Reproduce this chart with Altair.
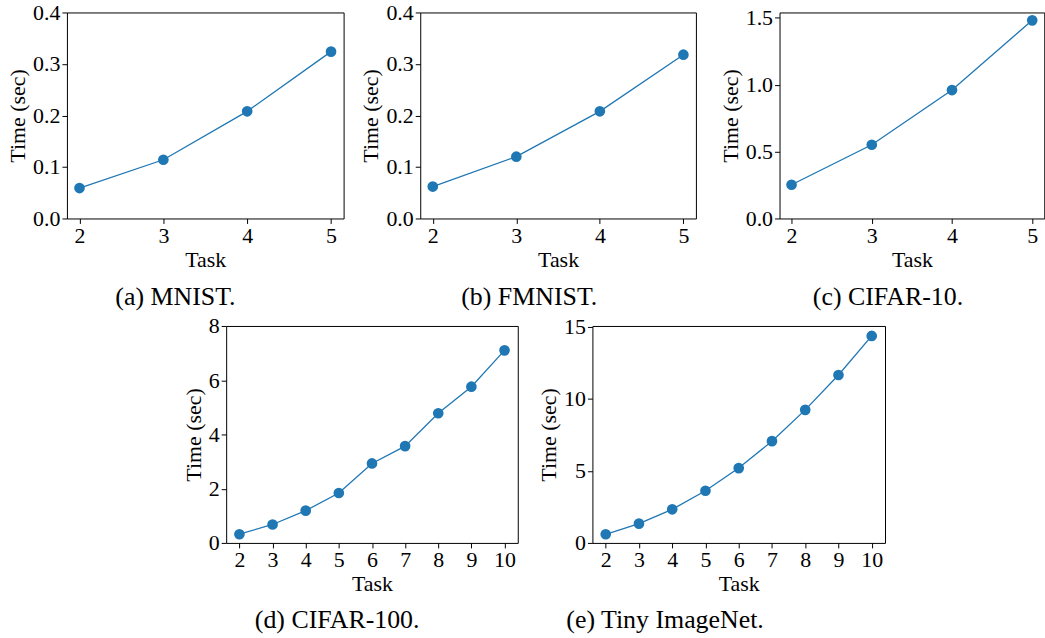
import altair as alt
import pandas as pd

tasks_5 = [2, 3, 4, 5]
mnist = [0.059, 0.114, 0.208, 0.324]
fmnist = [0.062, 0.120, 0.208, 0.318]
cifar10 = [0.252, 0.551, 0.960, 1.481]
tasks_10 = [2, 3, 4, 5, 6, 7, 8, 9, 10]
cifar100 = [0.32, 0.68, 1.19, 1.84, 2.93, 3.57, 4.78, 5.76, 7.10]
tiny = [0.60, 1.34, 2.33, 3.62, 5.19, 7.06, 9.23, 11.65, 14.36]

FONT = "Liberation Serif"
BLUE = "#1f77b4"


def panel(tasks, vals, xdom, ydom, yvals, fmt, caption, w, h, dx, off):
    df = pd.DataFrame({"Task": tasks, "Time": vals})
    base = alt.Chart(df).encode(
        x=alt.X("Task:Q", scale=alt.Scale(domain=xdom, nice=False, zero=False),
                axis=alt.Axis(values=tasks, format="d", title="Task")),
        y=alt.Y("Time:Q", scale=alt.Scale(domain=ydom, nice=False, zero=False),
                axis=alt.Axis(values=yvals, format=fmt, title="Time (sec)")),
    )
    line = base.mark_line(color=BLUE, strokeWidth=1.3)
    pts = base.mark_circle(color=BLUE, size=115, opacity=1)
    return alt.layer(line, pts).properties(
        width=w, height=h,
        title=alt.TitleParams(caption, orient="bottom", offset=off, font=FONT,
                              fontSize=26, fontWeight="normal", color="black",
                              frame="group", anchor="middle", dx=dx),
    )


a = panel(tasks_5, mnist, [1.85, 5.15], [0, 0.4], [0, 0.1, 0.2, 0.3, 0.4], ".1f", "(a) MNIST.", 278, 207, -30, 14)
b = panel(tasks_5, fmnist, [1.85, 5.15], [0, 0.4], [0, 0.1, 0.2, 0.3, 0.4], ".1f", "(b) FMNIST.", 277, 207, -29, 14)
c = panel(tasks_5, cifar10, [1.85, 5.15], [0, 1.54], [0, 0.5, 1.0, 1.5], ".1f", "(c) CIFAR-10.", 266, 207, -24, 14)
d = panel(tasks_10, cifar100, [1.6, 10.4], [0, 8], [0, 2, 4, 6, 8], "d", "(d) CIFAR-100.", 293, 218, -35, 12)
e = panel(tasks_10, tiny, [1.6, 10.4], [0, 15.05], [0, 5, 10, 15], "d", "(e) Tiny ImageNet.", 294, 218, -74, 12)

top = alt.hconcat(alt.hconcat(a, b, spacing=15), c, spacing=22)
bottom = alt.hconcat(d, e, spacing=18)

chart = alt.vconcat(top, bottom, spacing=3, center=True).properties(
    padding={"left": 6, "top": -1, "right": 0, "bottom": 0},
    background="white",
).configure_axis(
    labelFont=FONT, titleFont=FONT, labelFontSize=22, titleFontSize=22,
    titleFontWeight="normal", labelColor="black", titleColor="black",
    tickColor="black", tickSize=5, tickWidth=1, labelPadding=2, titlePadding=3,
    grid=False, domain=False,
).configure_view(stroke="black", strokeWidth=1)

chart.save("out.html", embed_options={"renderer": "svg", "actions": False})
